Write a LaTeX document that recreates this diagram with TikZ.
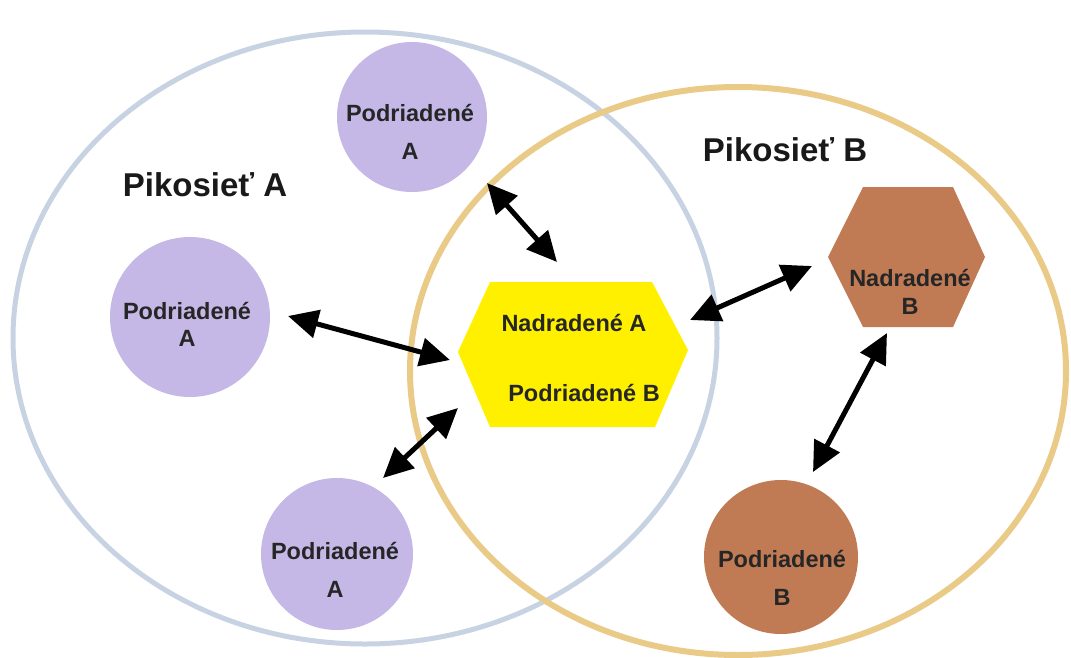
\documentclass[tikz,border=0pt]{standalone}
\usepackage{fontspec}
\setmainfont{Liberation Sans}
\usepackage{xcolor}
\usepackage{tikz}
\usetikzlibrary{arrows.meta}
\definecolor{netA}{RGB}{199,211,226}
\definecolor{netB}{RGB}{233,202,135}
\definecolor{slaveA}{RGB}{197,184,231}
\definecolor{brownB}{RGB}{193,123,84}
\definecolor{masterY}{RGB}{255,240,0}

\begin{document}
\begin{tikzpicture}[x=1pt,y=-1pt,
  lbl/.style={font=\fontsize{23.5}{27}\selectfont\bfseries, text=black!85, align=center, inner sep=0pt},
  title/.style={font=\fontsize{33}{37}\selectfont\bfseries, text=black!90, inner sep=0pt},
  link/.style={{Triangle[length=30pt,width=28pt]}-{Triangle[length=30pt,width=28pt]}, line width=5pt, black}]
  \useasboundingbox[fill=white] (0,0) rectangle (1071,657);

  \draw[netA, line width=5pt] (365,338) ellipse (352 and 306);
  \draw[netB, line width=6pt] (738,371) ellipse (328 and 284);

  \fill[slaveA] (412,117) circle (75);
  \node[lbl] (sA1) at (410,132) {Podriadené\\[11pt]A};
  \fill[slaveA] (190,317) circle (80);
  \node[lbl] (sA2) at (187,324) {Podriadené\\[0pt]A};
  \fill[slaveA] (337,554) circle (76);
  \node[lbl] (sA3) at (335,570) {Podriadené\\[11pt]A};

  \fill[masterY] (458,352) -- (490,282) -- (652,282) -- (688,350) -- (655,427) -- (490,427) -- cycle;
  \node[lbl] (mA) at (574,323) {Nadradené A};
  \node[lbl] (sB0) at (584,393) {Podriadené B};

  \fill[brownB] (828,257) -- (863,187) -- (953,187) -- (985,257) -- (953,327) -- (863,327) -- cycle;
  \node[lbl] (mB) at (910,292) {Nadradené\\[1pt]B};
  \fill[brownB] (781,557) circle (77);
  \node[lbl] (sB1) at (782,578) {Podriadené\\[11pt]B};

  \node[title] (pA) at (205,185) {Pikosieť A};
  \node[title] (pB) at (785,150) {Pikosieť B};

  \coordinate (a1) at (487,183);
  \coordinate (b1) at (557,262);
  \coordinate (a2) at (288,316);
  \coordinate (b2) at (450,360);
  \coordinate (a3) at (383,478);
  \coordinate (b3) at (458,408);
  \coordinate (a4) at (690,320);
  \coordinate (b4) at (812,266);
  \coordinate (a5) at (887,333);
  \coordinate (b5) at (813,472);
  \foreach \i in {1,...,5} {
    \draw[link] (a\i) -- (b\i);
  }
\end{tikzpicture}
\end{document}
